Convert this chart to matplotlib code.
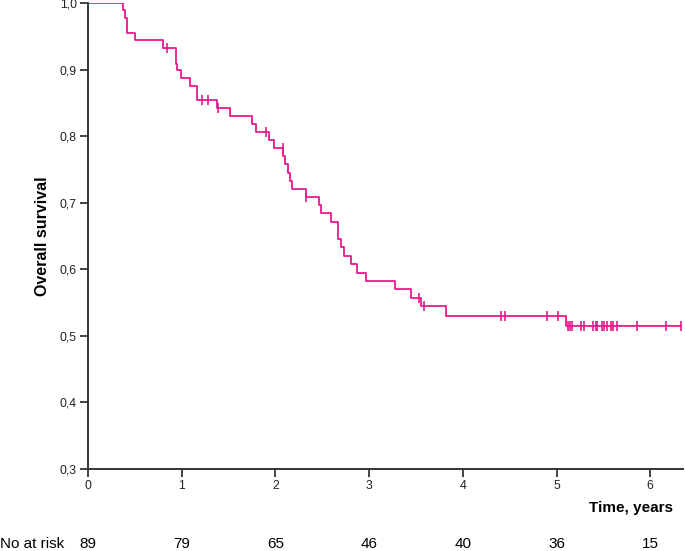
import numpy as np
import matplotlib.pyplot as plt

plt.rcParams["font.family"] = ["Liberation Sans", "DejaVu Sans"]

# step function of the survival curve (time of drop, survival after the drop)
event_t = [0.377, 0.395, 0.413, 0.50, 0.804, 0.936, 0.953, 0.993, 1.089, 1.160,
           1.373, 1.515, 1.750, 1.789, 1.932, 1.989, 2.085, 2.103, 2.131, 2.156,
           2.174, 2.323, 2.465, 2.483, 2.593, 2.672, 2.695, 2.732, 2.803, 2.874,
           2.963, 3.276, 3.447, 3.550, 3.821, 5.100]
event_s = [0.989, 0.977, 0.955, 0.944, 0.933, 0.909, 0.899, 0.887, 0.875, 0.854,
           0.842, 0.830, 0.818, 0.806, 0.794, 0.782, 0.770, 0.758, 0.745, 0.732,
           0.720, 0.708, 0.696, 0.684, 0.671, 0.645, 0.633, 0.620, 0.608, 0.595,
           0.583, 0.570, 0.557, 0.545, 0.530, 0.515]

censor_t = [0.847, 1.213, 1.277, 1.390, 1.896, 2.078, 2.330, 3.536, 3.590,
            4.410, 4.450, 4.895, 5.012, 5.126, 5.144, 5.162, 5.262, 5.293,
            5.393, 5.418, 5.436, 5.482, 5.510, 5.542, 5.578, 5.606, 5.642,
            5.856, 6.169, 6.329]

risk_t = [0, 1, 2, 3, 4, 5, 6]
at_risk = [89, 79, 65, 46, 40, 36, 15]

yticks = [0.3, 0.4, 0.5, 0.6, 0.7, 0.8, 0.9, 1.0]
col = "#e8198b"

t = np.concatenate([[0.0], event_t, [censor_t[-1]]])
s = np.concatenate([[1.0], event_s, [event_s[-1]]])

# survival level at each censor time
idx = np.searchsorted(event_t, censor_t, side="right")
censor_s = np.concatenate([[1.0], event_s])[idx]

fig = plt.figure(figsize=(6.85, 5.51), dpi=100)
ax = fig.add_axes([88 / 685, 1 - 469 / 551, 595 / 685, 466 / 551])

ax.step(t, s, where="post", color=col, linewidth=1.3)
ax.plot(censor_t, censor_s, linestyle="none", marker="|", markersize=7,
        markeredgewidth=1.2, color=col)

ax.set_xlim(0, 6.35)
ax.set_ylim(0.3, 1.0)
ax.set_xticks(risk_t)
ax.set_xticklabels([str(v) for v in risk_t])
ax.set_yticks(yticks)
ax.set_yticklabels([f"{v:.1f}".replace(".", ",") for v in yticks])
ax.tick_params(axis="both", direction="out", length=6, width=1.2,
               labelsize=8.8, colors="#222222", pad=2)

for side in ["top", "right"]:
    ax.spines[side].set_visible(False)
for side in ["left", "bottom"]:
    ax.spines[side].set_linewidth(1.4)
    ax.spines[side].set_color("#333333")
    ax.spines[side].set_clip_on(False)

ax.set_ylabel("Overall survival", fontsize=11.5, fontweight="bold", labelpad=7)
fig.text(673 / 685, 1 - 508 / 551, "Time, years", fontsize=11,
         fontweight="bold", ha="right", va="center")

# number at risk row
fig.text(0.0, 1 - 544 / 551, "No at risk", fontsize=11, ha="left", va="center")
for tt, n in zip(risk_t, at_risk):
    xf = fig.transFigure.inverted().transform(ax.transData.transform((tt, 0.3)))[0]
    fig.text(xf, 1 - 544 / 551, str(n), fontsize=11, ha="center", va="center")

fig.savefig("out.png", dpi=100)
